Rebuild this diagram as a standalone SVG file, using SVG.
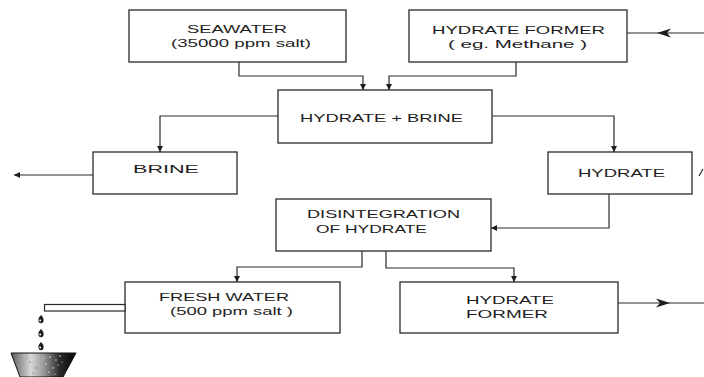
<svg xmlns="http://www.w3.org/2000/svg" width="704" height="377" viewBox="0 0 704 377">
  <defs>
    <style>
      .box { fill: #ffffff; stroke: #2a2a2a; stroke-width: 1.3; }
      .wire { fill: none; stroke: #2a2a2a; stroke-width: 1.2; }
      .lbl { font-family: "Liberation Sans", Arial, sans-serif; font-size: 11.5px; fill: #1e1e1e; }
      .head { fill: #1e1e1e; }
    </style>
    <marker id="tip" viewBox="0 0 8 8" refX="8" refY="4" markerWidth="6" markerHeight="6" markerUnits="userSpaceOnUse" orient="auto">
      <path d="M0,0 L8,4 L0,8 Z" class="head"/>
    </marker>
    <linearGradient id="bowl" x1="0" y1="0" x2="1" y2="0">
      <stop offset="0" stop-color="#5a5a5a"/>
      <stop offset="0.3" stop-color="#d8d8d8"/>
      <stop offset="0.5" stop-color="#9a9a9a"/>
      <stop offset="0.75" stop-color="#2a2a2a"/>
      <stop offset="1" stop-color="#050505"/>
    </linearGradient>
  </defs>

  <rect width="704" height="377" fill="#ffffff"/>

  <!-- connectors -->
  <g id="connectors">
    <path class="wire" d="M239,62 V76 H363 V90" marker-end="url(#tip)"/>
    <path class="wire" d="M516,62 V76 H389 V90" marker-end="url(#tip)"/>
    <path class="wire" d="M278,116 H160 V152" marker-end="url(#tip)"/>
    <path class="wire" d="M492,116 H614 V152" marker-end="url(#tip)"/>
    <path class="wire" d="M93,175 H14" marker-end="url(#tip)"/>
    <path class="wire" d="M609,194 V228 H491" marker-end="url(#tip)"/>
    <path class="wire" d="M362,251 V267 H237 V282" marker-end="url(#tip)"/>
    <path class="wire" d="M386,251 V268 H514 V282" marker-end="url(#tip)"/>
    <!-- feed line into the hydrate former -->
    <path class="wire" d="M704,33 H627"/>
    <path class="head" d="M657,33 L671,28.5 L667,33 L671,37.5 Z"/>
    <!-- recycled hydrate former leaving -->
    <path class="wire" d="M618,303 H704"/>
    <path class="head" d="M670,303 L656,298.5 L660,303 L656,307.5 Z"/>
    <!-- partial line at the right of the hydrate box -->
    <path class="wire" d="M699,176 L703,169"/>
  </g>

  <g id="seawater">
    <rect class="box" x="129" y="10" width="217" height="52"/>
    <text class="lbl" x="187" y="33" textLength="100" lengthAdjust="spacingAndGlyphs">SEAWATER</text>
    <text class="lbl" x="171" y="47" textLength="140" lengthAdjust="spacingAndGlyphs">(35000 ppm salt)</text>
  </g>

  <g id="hydrate-former-in">
    <rect class="box" x="409" y="10" width="218" height="52"/>
    <text class="lbl" x="432" y="34" textLength="173" lengthAdjust="spacingAndGlyphs">HYDRATE FORMER</text>
    <text class="lbl" x="448" y="48" textLength="139" lengthAdjust="spacingAndGlyphs">( eg. Methane )</text>
  </g>

  <g id="hydrate-brine">
    <rect class="box" x="278" y="90" width="214" height="53"/>
    <text class="lbl" x="300" y="122" textLength="163" lengthAdjust="spacingAndGlyphs">HYDRATE + BRINE</text>
  </g>

  <g id="brine">
    <rect class="box" x="93" y="152" width="144" height="42"/>
    <text class="lbl" x="133" y="173" textLength="66" lengthAdjust="spacingAndGlyphs">BRINE</text>
  </g>

  <g id="hydrate">
    <rect class="box" x="548" y="152" width="144" height="42"/>
    <text class="lbl" x="578" y="177" textLength="87" lengthAdjust="spacingAndGlyphs">HYDRATE</text>
  </g>

  <g id="disintegration">
    <rect class="box" x="276" y="199" width="215" height="52"/>
    <text class="lbl" x="307" y="218" textLength="153" lengthAdjust="spacingAndGlyphs">DISINTEGRATION</text>
    <text class="lbl" x="316" y="233" textLength="111" lengthAdjust="spacingAndGlyphs">OF HYDRATE</text>
  </g>

  <g id="fresh-water">
    <rect class="box" x="125" y="282" width="215" height="51"/>
    <text class="lbl" x="159" y="301" textLength="130" lengthAdjust="spacingAndGlyphs">FRESH WATER</text>
    <text class="lbl" x="170" y="315" textLength="123" lengthAdjust="spacingAndGlyphs">(500 ppm salt )</text>
  </g>

  <g id="hydrate-former-out">
    <rect class="box" x="400" y="282" width="218" height="51"/>
    <text class="lbl" x="466" y="304" textLength="88" lengthAdjust="spacingAndGlyphs">HYDRATE</text>
    <text class="lbl" x="466" y="318" textLength="82" lengthAdjust="spacingAndGlyphs">FORMER</text>
  </g>

  <!-- outlet pipe, drops and collecting vessel -->
  <g id="outlet">
    <rect x="44.5" y="304.5" width="80.5" height="6.5" fill="#ffffff" stroke="#2a2a2a" stroke-width="1.2"/>
    <g fill="#1e1e1e">
      <path d="M41,315 Q44,318 43.5,320 A2.6,2.6 0 1 1 38.5,320 Q38,318 41,315 Z"/>
      <path d="M41,329 Q44,332 43.5,334 A2.6,2.6 0 1 1 38.5,334 Q38,332 41,329 Z"/>
      <path d="M41,342 Q44,345 43.5,347 A2.6,2.6 0 1 1 38.5,347 Q38,345 41,342 Z"/>
    </g>
    <g fill="#ffffff">
      <circle cx="40.2" cy="320.5" r="0.9"/>
      <circle cx="40.2" cy="334.5" r="0.9"/>
      <circle cx="40.2" cy="347.5" r="0.9"/>
    </g>
    <path d="M11,353 H76 L63,377 H20 Z" fill="url(#bowl)" stroke="#111111" stroke-width="1"/>
    <g fill="#ffffff" opacity="0.85">
      <circle cx="50" cy="357" r="0.8"/>
      <circle cx="56" cy="360" r="0.7"/>
      <circle cx="60" cy="356" r="0.8"/>
      <circle cx="46" cy="364" r="0.7"/>
      <circle cx="53" cy="368" r="0.8"/>
      <circle cx="58" cy="365" r="0.6"/>
      <circle cx="49" cy="372" r="0.7"/>
      <circle cx="62" cy="362" r="0.6"/>
      <circle cx="44" cy="358" r="0.6"/>
      <circle cx="55" cy="374" r="0.6"/>
    </g>
    <g fill="#444444" opacity="0.6">
      <circle cx="30" cy="362" r="0.8"/>
      <circle cx="36" cy="368" r="0.7"/>
      <circle cx="27" cy="358" r="0.6"/>
      <circle cx="33" cy="373" r="0.7"/>
    </g>
  </g>
</svg>
